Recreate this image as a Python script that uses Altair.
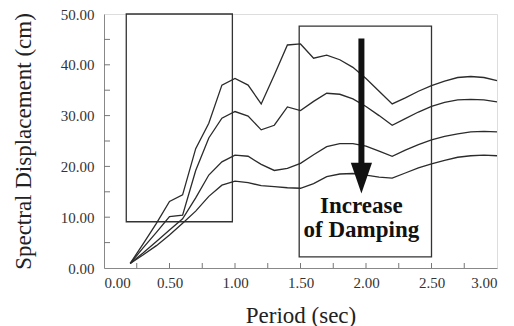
import altair as alt
import pandas as pd

# ---- data ----
periods = [0.2, 0.3, 0.4, 0.5, 0.6, 0.7, 0.8, 0.9, 1.0, 1.1, 1.2, 1.3, 1.4, 1.5,
           1.6, 1.7, 1.8, 1.9, 2.0, 2.1, 2.2, 2.3, 2.4, 2.5, 2.6, 2.7, 2.8, 2.9, 3.0]
curve1 = [0.9, 4.8, 8.8, 13.1, 14.4, 23.5, 28.5, 36.0, 37.3, 36.0, 32.3, 38.0, 43.9, 44.1,
          41.3, 41.9, 41.0, 39.5, 37.3, 34.8, 32.3, 33.5, 34.8, 35.9, 36.8, 37.5, 37.7, 37.5, 36.9]
curve2 = [0.9, 4.0, 7.0, 10.1, 10.4, 19.2, 25.6, 29.5, 30.8, 29.9, 27.2, 28.1, 31.7, 31.0,
          32.8, 34.4, 34.2, 33.3, 31.8, 30.0, 28.1, 29.4, 30.7, 31.8, 32.6, 33.1, 33.2, 33.1, 32.7]
curve3 = [0.9, 3.0, 5.2, 7.5, 9.7, 13.8, 18.3, 20.9, 22.2, 22.0, 20.4, 19.2, 19.6, 20.6,
          22.3, 23.9, 24.5, 24.5, 24.0, 23.0, 22.0, 23.2, 24.3, 25.2, 25.9, 26.4, 26.8, 26.9, 26.8]
curve4 = [0.9, 2.6, 4.4, 6.5, 8.8, 11.2, 14.1, 16.3, 17.1, 16.8, 16.2, 16.0, 15.8, 15.7,
          16.6, 18.0, 18.5, 18.6, 18.3, 17.9, 17.7, 18.7, 19.7, 20.5, 21.2, 21.8, 22.1, 22.2, 22.1]

box_x1 = [0.17, 1.49]
box_x2 = [0.98, 2.50]
box_y1 = [9.1, 2.2]
box_y2 = [50.0, 47.6]

arrow_x = [1.965]
arrow_top = [45.2]
arrow_shaft_end = [20.0]
arrow_head_y = [17.7]

note_lines = ["Increase", "of Damping"]
note_x = [1.965, 1.965]
note_y = [10.9, 6.1]

x_label_values = [0.0, 0.5, 1.0, 1.5, 2.0, 2.5, 3.0]
y_label_values = [0, 10, 20, 30, 40, 50]
x_tick_values = [0.25, 0.5, 0.75, 1.0, 1.25, 1.5, 1.75, 2.0, 2.25, 2.5, 2.75]
y_tick_values = [5, 10, 15, 20, 25, 30, 35, 40, 45]

# ---- tables ----
rows = []
for name, vals in [("c1", curve1), ("c2", curve2), ("c3", curve3), ("c4", curve4)]:
    for p, v in zip(periods, vals):
        rows.append({"period": p, "sd": v, "series": name})
df = pd.DataFrame(rows)
boxes = pd.DataFrame({"x1": box_x1, "x2": box_x2, "y1": box_y1, "y2": box_y2})
arrow = pd.DataFrame({"x": arrow_x, "y1": arrow_top, "y2": arrow_shaft_end, "yh": arrow_head_y})
notes = pd.DataFrame({"t": note_lines, "x": note_x, "y": note_y})
xt = pd.DataFrame({"v": x_tick_values})
yt = pd.DataFrame({"v": y_tick_values})

W, H = 393, 254
FONT = "'Liberation Serif', 'Times New Roman', 'DejaVu Serif', serif"
INK = "#2b2b2b"

xscale = alt.Scale(domain=[0, 3], nice=False)
yscale = alt.Scale(domain=[0, 50], nice=False)

xaxis = alt.Axis(values=x_label_values, format=".2f", tickSize=0, grid=False,
                 labelFont=FONT, labelFontSize=15, labelColor="#333", labelPadding=7,
                 domainColor="#888", title="Period (sec)", titleFont=FONT,
                 titleFontSize=23, titleFontWeight="normal", titleColor="#222",
                 titlePadding=14)
yaxis = alt.Axis(values=y_label_values, format=".2f", tickSize=0, grid=False,
                 labelFont=FONT, labelFontSize=15, labelColor="#333", labelPadding=10,
                 domainColor="#888", title="Spectral Displacement (cm)", titleFont=FONT,
                 titleFontSize=23, titleFontWeight="normal", titleColor="#222",
                 titlePadding=25)

lines = alt.Chart(df).mark_line(color=INK, strokeWidth=1.3).encode(
    x=alt.X("period:Q", scale=xscale, axis=xaxis),
    y=alt.Y("sd:Q", scale=yscale, axis=yaxis),
    detail="series:N",
)

rects = alt.Chart(boxes).mark_rect(filled=False, stroke="#333", strokeWidth=1.3).encode(
    x=alt.X("x1:Q", scale=xscale), x2="x2:Q",
    y=alt.Y("y1:Q", scale=yscale), y2="y2:Q",
)

shaft = alt.Chart(arrow).mark_rule(color="#111", strokeWidth=6).encode(
    x=alt.X("x:Q", scale=xscale),
    y=alt.Y("y1:Q", scale=yscale), y2="y2:Q",
)
head = alt.Chart(arrow).mark_point(
    shape="M-1,-1.45L1,-1.45L0,1.45Z", size=450, filled=True, fill="#111",
    opacity=1, strokeWidth=0,
).encode(
    x=alt.X("x:Q", scale=xscale),
    y=alt.Y("yh:Q", scale=yscale),
)

text = alt.Chart(notes).mark_text(font=FONT, fontSize=23, fontWeight="bold",
                                  color="#111", baseline="alphabetic").encode(
    x=alt.X("x:Q", scale=xscale),
    y=alt.Y("y:Q", scale=yscale),
    text="t:N",
)

xticks = alt.Chart(xt).mark_rule(color="#777", strokeWidth=1).encode(
    x=alt.X("v:Q", scale=xscale),
    y=alt.value(H), y2=alt.value(H - 5),
)
yticks = alt.Chart(yt).mark_rule(color="#777", strokeWidth=1).encode(
    y=alt.Y("v:Q", scale=yscale),
    x=alt.value(0), x2=alt.value(6),
)

chart = alt.layer(xticks, yticks, rects, lines, shaft, head, text).properties(
    width=W, height=H,
    autosize=alt.AutoSizeParams(type="none"),
    padding={"left": 104, "top": 14, "right": 17, "bottom": 58},
).configure_view(stroke="#888", strokeWidth=1).configure(background="white")

chart.save("out.html", embed_options={"renderer": "svg", "actions": False})
